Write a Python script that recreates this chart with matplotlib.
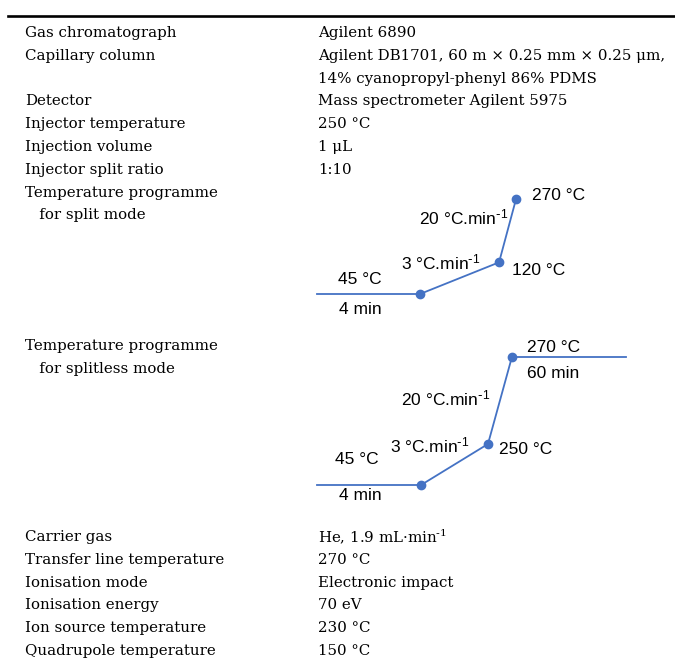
import matplotlib
matplotlib.use("Agg")
import matplotlib.pyplot as plt

plt.rcParams['mathtext.default'] = 'regular'

W, H = 675, 661

# table rows above the diagrams
top_labels = ["Gas chromatograph", "Capillary column", "", "Detector",
              "Injector temperature", "Injection volume", "Injector split ratio",
              "Temperature programme", "   for split mode"]
top_values = ["Agilent 6890", "Agilent DB1701, 60 m \u00d7 0.25 mm \u00d7 0.25 \u03bcm,",
              "14% cyanopropyl-phenyl 86% PDMS", "Mass spectrometer Agilent 5975",
              "250 \u00b0C", "1 \u03bcL", "1:10", "", ""]
mid_labels = ["Temperature programme", "   for splitless mode"]
bottom_labels = ["Carrier gas", "Transfer line temperature", "Ionisation mode",
                 "Ionisation energy", "Ion source temperature", "Quadrupole temperature"]
bottom_values = ["He, 1.9 mL\u00b7min$^{\\text{-}1}$", "270 \u00b0C", "Electronic impact",
                 "70 eV", "230 \u00b0C", "150 \u00b0C"]

rate_fast = "20 \u00b0C.min$^{\\text{-}1}$"
rate_slow = "3 \u00b0C.min$^{\\text{-}1}$"

# schematic oven programmes (drawing units, not to scale)
split_time = [0, 4, 7.07, 7.73]
split_temp = [45, 45, 120, 270]
split_marks = [1, 2, 3]
split_text = [("45 \u00b0C", 1, -60, 14, "center"),
              ("4 min", 1, -60, -16, "center"),
              (rate_slow, 2, -19, 0, "right"),
              ("120 \u00b0C", 2, 13, -8, "left"),
              (rate_fast, 3, -8, -18, "right"),
              ("270 \u00b0C", 3, 16, 4, "left")]

splitless_time = [0, 4.04, 6.64, 7.57, 12]
splitless_level = [0, 0, 41, 128, 128]
splitless_marks = [1, 2, 3]
splitless_text = [("45 \u00b0C", 1, -64, 25, "center"),
                  ("4 min", 1, -61, -10, "center"),
                  (rate_slow, 2, -18, -1, "right"),
                  ("250 \u00b0C", 2, 11, -5, "left"),
                  (rate_fast, 3, -22, -41, "right"),
                  ("270 \u00b0C", 3, 15, 10, "left"),
                  ("60 min", 3, 15, -16, "left")]

blue = '#4472C4'
serif = dict(family='DejaVu Serif', fontsize=10.8, va='center')
sans = dict(family='Liberation Sans', fontsize=12.5, va='center')

fig = plt.figure(figsize=(W / 100, H / 100), dpi=100)
ax = fig.add_axes([0, 0, 1, 1])
ax.set_xlim(0, W)
ax.set_ylim(H, 0)
ax.axis('off')

ax.plot([8, W], [15.5, 15.5], color='black', lw=1.9)

step = 22.8
for i, (lab, val) in enumerate(zip(top_labels, top_values)):
    y = 33 + i * step
    ax.text(25, y, lab, **serif)
    ax.text(318, y, val, **serif)
for i, lab in enumerate(mid_labels):
    ax.text(25, 346 + i * step, lab, **serif)
for i, (lab, val) in enumerate(zip(bottom_labels, bottom_values)):
    y = 537 + i * step
    ax.text(25, y, lab, **serif)
    ax.text(318, y, val, **serif)


def diagram(box, xlim, ylim, xs, ys, marks, texts):
    l, t, r, b = box
    a = fig.add_axes([l / W, (H - b) / H, (r - l) / W, (b - t) / H])
    a.set_xlim(*xlim)
    a.set_ylim(*ylim)
    a.axis('off')
    a.plot(xs, ys, color=blue, lw=1.3, clip_on=False)
    a.plot([xs[k] for k in marks], [ys[k] for k in marks], 'o', color=blue,
           ms=6, clip_on=False)
    for s, k, dx, dy, ha in texts:
        a.annotate(s, (xs[k], ys[k]), xytext=(dx, dy), textcoords='offset pixels',
                   ha=ha, annotation_clip=False, **sans)


diagram((317, 199, 523, 294), (0, 8), (45, 270), split_time, split_temp,
        split_marks, split_text)
diagram((317, 357, 626, 485), (0, 12), (0, 128), splitless_time, splitless_level,
        splitless_marks, splitless_text)

fig.savefig('out.png', dpi=100)
